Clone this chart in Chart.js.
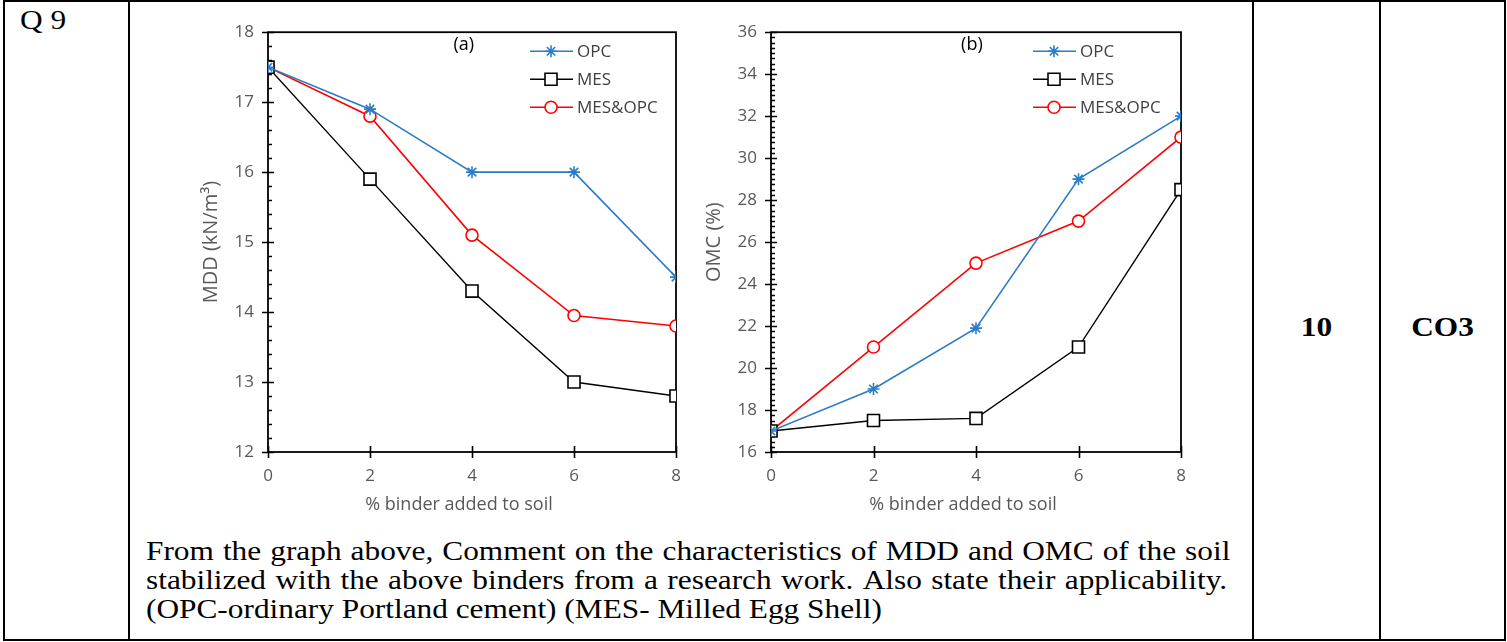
<!DOCTYPE html>
<html>
<head>
<meta charset="utf-8">
<script src="https://cdn.jsdelivr.net/npm/chart.js@4.4.1/dist/chart.umd.min.js"></script>
<style>
  html, body { margin:0; padding:0; background:#fff; }
  body { width:1507px; height:642px; position:relative; overflow:hidden; font-family:"Liberation Serif", serif; color:#000; }
  .ln { position:absolute; background:#000; }
  .txt { position:absolute; font-size:27px; line-height:29px; white-space:nowrap; transform:scaleX(1.16); transform-origin:0 0; }
  .ctr { transform-origin:50% 0; text-align:center; font-weight:bold; }
  .flex { display:flex; justify-content:space-between; }
  canvas { position:absolute; }
</style>
</head>
<body>
<!-- table borders -->
<div class="ln" style="left:3px;top:0;width:1503px;height:2px"></div>
<div class="ln" style="left:3px;top:639px;width:1503px;height:2px"></div>
<div class="ln" style="left:3px;top:0;width:2px;height:641px"></div>
<div class="ln" style="left:128px;top:0;width:2px;height:641px"></div>
<div class="ln" style="left:1252px;top:0;width:2px;height:641px"></div>
<div class="ln" style="left:1379px;top:0;width:2px;height:641px"></div>
<div class="ln" style="left:1504px;top:0;width:2px;height:641px"></div>

<div class="txt" style="left:20px;top:6px;">Q 9</div>
<div class="txt ctr" style="left:1254px;width:125px;top:313px;">10</div>
<div class="txt ctr" style="left:1381px;width:123px;top:313px;">CO3</div>

<div id="l1" class="txt flex" style="left:146px;width:935px;top:537px;"></div>
<div id="l2" class="txt flex" style="left:146px;width:932px;top:566px;"></div>
<div class="txt" style="left:146px;top:595px;">(OPC-ordinary Portland cement) (MES- Milled Egg Shell)</div>

<canvas id="cA" width="520" height="512" style="left:180px;top:8px"></canvas>
<canvas id="cB" width="520" height="512" style="left:685px;top:8px"></canvas>

<script>
// ---- data ----
const binder = [0, 2, 4, 6, 8];
const seriesNames = ["OPC", "MES", "MES&OPC"];
const mddOPC    = [17.5, 16.9, 16.0, 16.0, 14.5];
const mddMES    = [17.5, 15.9, 14.3, 13.0, 12.8];
const mddMixed  = [17.5, 16.8, 15.1, 13.95, 13.8];
const omcOPC    = [17.0, 19.0, 21.9, 29.0, 32.0];
const omcMES    = [17.0, 17.5, 17.6, 21.0, 28.5];
const omcMixed  = [17.0, 21.0, 25.0, 27.0, 31.0];
const xTitle = "% binder added to soil";
const yTitleA = "MDD (kN/m³)";
const yTitleB = "OMC (%)";
const panelA = "(a)";
const panelB = "(b)";
const line1 = "From the graph above, Comment on the characteristics of MDD and OMC of the soil";
const line2 = "stabilized with the above binders from a research work. Also state their applicability.";

function fillWords(id, text) {
  const el = document.getElementById(id);
  text.split(' ').forEach(w => { const s = document.createElement('span'); s.textContent = w; el.appendChild(s); });
}
fillWords('l1', line1);
fillWords('l2', line2);

const BLUE = "#2A7CC7", RED = "#FF0000", BLACK = "#000000";
const TICK_COLOR = "#595959";
const FONT = "'Open Sans', 'Liberation Sans', sans-serif";

function pts(vals) { return vals.map((v, i) => ({ x: binder[i], y: v })); }

function makeDatasets(a, b, c) {
  return [
    { label: seriesNames[0], data: pts(a), borderColor: BLUE, backgroundColor: BLUE, pointStyle: 'star', pointRadius: 6, pointBorderWidth: 1.6, borderWidth: 1.6 },
    { label: seriesNames[1], data: pts(b), borderColor: BLACK, backgroundColor: '#fff', pointStyle: 'rect', pointRadius: 8.5, pointBorderWidth: 1.6, borderWidth: 1.4 },
    { label: seriesNames[2], data: pts(c), borderColor: RED, backgroundColor: '#fff', pointStyle: 'circle', pointRadius: 6, pointBorderWidth: 1.6, borderWidth: 1.6 }
  ];
}

const framePlugin = {
  id: 'frame',
  beforeDatasetsDraw(chart, args, opts) {
    const { ctx, chartArea: ca, scales: { x, y } } = chart;
    ctx.save();
    ctx.strokeStyle = '#000';
    ctx.lineWidth = 1.8;
    ctx.strokeRect(ca.left, ca.top, ca.right - ca.left, ca.bottom - ca.top);
    ctx.lineWidth = 1.6;
    ctx.beginPath();
    for (let v = y.min; v <= y.max + 1e-9; v += opts.yMajor) {
      const py = Math.round(y.getPixelForValue(v)) + 0.5;
      ctx.moveTo(ca.left - 6, py); ctx.lineTo(ca.left + 6, py);
    }
    for (let v = y.min; v <= y.max + 1e-9; v += opts.yMinor) {
      const py = Math.round(y.getPixelForValue(v)) + 0.5;
      ctx.moveTo(ca.left, py); ctx.lineTo(ca.left + 4, py);
    }
    for (let v = x.min; v <= x.max + 1e-9; v += 2) {
      const px = Math.round(x.getPixelForValue(v)) + 0.5;
      ctx.moveTo(px, ca.bottom - 6); ctx.lineTo(px, ca.bottom + 6);
    }
    ctx.stroke();
    ctx.restore();
  },
  afterDatasetsDraw(chart, args, opts) {
    const { ctx, chartArea: ca } = chart;
    ctx.save();
    ctx.textBaseline = 'middle';
    ctx.fillStyle = TICK_COLOR;
    ctx.font = "18px " + FONT;
    ctx.textAlign = 'center';
    ctx.fillText(xTitle, (ca.left + ca.right) / 2 - 13, ca.bottom + 53);
    ctx.fillStyle = '#000';
    ctx.font = "18px " + FONT;
    ctx.fillText(opts.panel, ca.left + (ca.right - ca.left) * opts.panelFrac, ca.top + 13);
    ctx.font = "17px " + FONT;
    ctx.textAlign = 'left';
    chart.data.datasets.forEach((ds, i) => {
      const cy = ca.top + 19 + i * 28;
      const x0 = opts.legX;
      ctx.strokeStyle = ds.borderColor;
      ctx.lineWidth = 1.6;
      ctx.beginPath(); ctx.moveTo(x0, cy); ctx.lineTo(x0 + 43, cy); ctx.stroke();
      if (ds.pointStyle === 'star') {
        Chart.helpers.drawPoint(ctx, { pointStyle: 'star', radius: ds.pointRadius, borderWidth: ds.pointBorderWidth, rotation: 0 }, x0 + 21, cy);
      } else {
        ctx.fillStyle = '#fff';
        ctx.lineWidth = ds.pointBorderWidth;
        ctx.beginPath();
        if (ds.pointStyle === 'rect') ctx.rect(x0 + 21 - 6, cy - 6, 12, 12);
        else ctx.arc(x0 + 21, cy, 6, 0, Math.PI * 2);
        ctx.fill(); ctx.stroke();
      }
      ctx.fillStyle = '#404040';
      ctx.fillText(ds.label, x0 + 47, cy + 1);
    });
    ctx.restore();
  }
};

function makeChart(id, datasets, yMin, yMax, yStep, yMinor, yTitle, yTitlePad, panel, panelFrac, legX, yW) {
  return new Chart(document.getElementById(id), {
    type: 'line',
    data: { datasets },
    options: {
      responsive: false,
      devicePixelRatio: 1,
      animation: false,
      events: [],
      layout: { padding: { left: 0, right: 24, top: 2, bottom: 0 } },
      plugins: {
        legend: { display: false },
        tooltip: { enabled: false },
        frame: { yMajor: yStep, yMinor: yMinor, panel, panelFrac, legX }
      },
      scales: {
        x: {
          type: 'linear', min: 0, max: 8,
          grid: { display: false, drawTicks: false },
          border: { display: false },
          ticks: { stepSize: 2, padding: 14, color: TICK_COLOR, font: { family: FONT, size: 17 } },
          title: { display: false },
          afterFit(s) { s.height = 68; }
        },
        y: {
          min: yMin, max: yMax,
          grid: { display: false, drawTicks: false },
          border: { display: false },
          ticks: { stepSize: yStep, padding: 14, color: TICK_COLOR, font: { family: FONT, size: 17 } },
          title: { display: true, text: yTitle, color: TICK_COLOR, font: { family: FONT, size: 20 }, padding: { top: yTitlePad, bottom: 0 } },
          afterFit(s) { s.width = yW; }
        }
      }
    },
    plugins: [framePlugin]
  });
}

makeChart('cA', makeDatasets(mddOPC, mddMES, mddMixed), 12, 18, 1, 0.2, yTitleA, 19, panelA, 0.48, 350, 88);
makeChart('cB', makeDatasets(omcOPC, omcMES, omcMixed), 16, 36, 2, 0.25, yTitleB, 17, panelB, 0.49, 348, 86);
</script>
</body>
</html>
